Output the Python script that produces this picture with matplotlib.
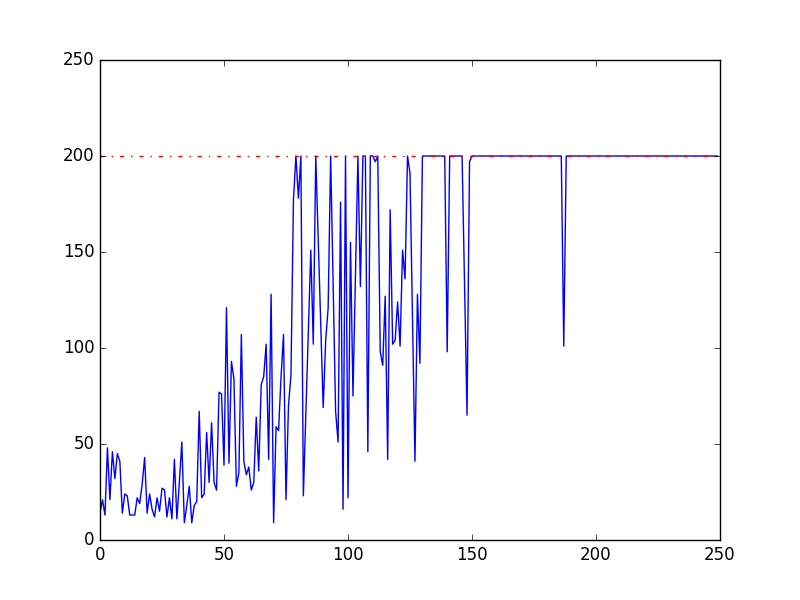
import matplotlib
matplotlib.use("Agg")
import matplotlib.pyplot as plt

plt.style.use("classic")

# steps per episode
steps = [14, 21, 13, 48, 21, 46, 32, 45, 41, 14,
         24, 23, 13, 13, 13, 22, 19, 29, 43, 14,
         24, 16, 12, 22, 15, 27, 26, 12, 22, 11,
         42, 11, 30, 51, 9, 18, 28, 9, 18, 20,
         67, 22, 24, 56, 30, 61, 30, 26, 77, 76,
         39, 121, 40, 93, 84, 28, 35, 107, 41, 34,
         38, 26, 30, 64, 36, 81, 85, 102, 42, 128,
         9, 59, 57, 85, 107, 21, 70, 86, 177, 200,
         178, 200, 23, 66, 108, 151, 102, 200, 156, 112,
         69, 104, 121, 200, 133, 67, 51, 176, 16, 200,
         22, 155, 75, 137, 200, 132, 200, 200, 46, 200,
         200, 197, 200, 98, 91, 127, 42, 172, 102, 104,
         124, 101, 151, 136, 200, 191, 116, 41, 128, 92]
steps += [200] * 10
steps += [98] + [200] * 6 + [132, 65, 197]
steps += [200] * 37
steps += [101]
steps += [200] * 62

episodes = list(range(len(steps)))
target = 200

fig, ax = plt.subplots(figsize=(8, 6), dpi=100)
ax.plot(episodes, steps, "b-", linewidth=1.0)
ax.axhline(target, color="r", linestyle="-.", linewidth=1.0)
ax.set_xlim(0, 250)
ax.set_ylim(0, 250)

fig.savefig("out.png", dpi=100)
